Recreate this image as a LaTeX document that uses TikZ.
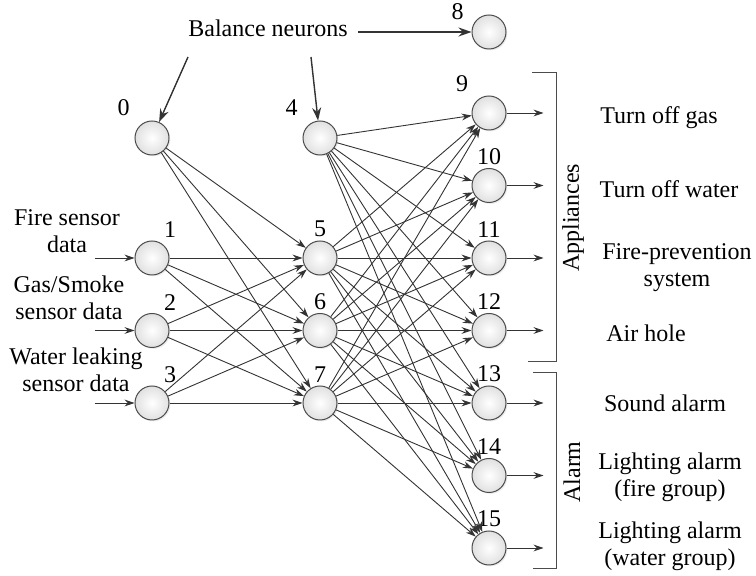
\documentclass[tikz,border=0pt]{standalone}
\usepackage{fontspec}
\setmainfont{Liberation Serif}
\usetikzlibrary{arrows.meta, positioning, shadows}

\begin{document}
\begin{tikzpicture}[->,>={Stealth[length=5pt,width=3.4pt]},x=0.5pt,y=-0.5pt,
		node distance=36.25pt,font=\fontsize{12}{13.5}\selectfont,
		every edge/.style={draw=black!80,line width=0.45pt}]
		\tikzstyle{neuron}=[circle,draw=black!70,line width=0.5pt,minimum size=17pt,inner sep=0pt,
			inner color=white,outer color=black!12,
			drop shadow={opacity=0.15,shadow xshift=0.7pt,shadow yshift=-0.7pt}]
		\tikzstyle{num}=[inner sep=0.5pt]
		\tikzstyle{desc}=[align=center,inner sep=0pt]
		\tikzstyle{wire}=[draw=black!80,line width=0.45pt]
		\tikzstyle{bal}=[draw=black!80,line width=0.7pt,-{Stealth[length=6.5pt,width=4.5pt]}]
		\tikzstyle{bracket}=[-,draw=black!70,line width=0.5pt]

		\useasboundingbox (0,0) rectangle (756,576);

		% input layer
		\node[neuron,label={[num,label distance=6pt]135:0}] (N0) at (152,138) {};
		\node[neuron,label={[num,label distance=2pt]60:1}] (N1) at (152,258) {};
		\node[neuron,label={[num,label distance=2pt]60:2}] (N2) [below of=N1] {};
		\node[neuron,label={[num,label distance=2pt]60:3}] (N3) [below of=N2] {};

		% hidden layer
		\node[neuron,label={[num,label distance=6pt]135:4}] (N4) [right of=N0,node distance=84pt] {};
		\node[neuron,label={[num,label distance=1pt]above:5}] (N5) [right of=N1,node distance=84pt] {};
		\node[neuron,label={[num,label distance=1pt]above:6}] (N6) [below of=N5] {};
		\node[neuron,label={[num,label distance=1pt]above:7}] (N7) [below of=N6] {};

		% output layer
		\node[neuron,label={[num,label distance=4.5pt]155:8}] (N8) at (489,32) {};
		\node[neuron,label={[num,label distance=5pt]135:9}] (N9) at (489,113) {};
		\node[neuron,label={[num,label distance=1pt]above:10}] (N10) [below of=N9] {};
		\node[neuron,label={[num,label distance=1pt]above:11}] (N11) [below of=N10] {};
		\node[neuron,label={[num,label distance=1pt]above:12}] (N12) [below of=N11] {};
		\node[neuron,label={[num,label distance=1pt]above:13}] (N13) [below of=N12] {};
		\node[neuron,label={[num,label distance=1pt]above:14}] (N14) [below of=N13] {};
		\node[neuron,label={[num,label distance=1pt]above:15}] (N15) [below of=N14] {};

		\path (N0) edge (N5) edge (N6) edge (N7)
			(N1) edge (N5) edge (N6) edge (N7)
			(N2) edge (N5) edge (N6) edge (N7)
			(N3) edge (N5) edge (N6) edge (N7);
		\path (N4) edge (N9) edge (N10) edge (N11) edge (N12) edge (N13) edge (N14) edge (N15)
			(N5) edge (N9) edge (N10) edge (N11) edge (N12) edge (N13) edge (N14) edge (N15)
			(N6) edge (N9) edge (N10) edge (N11) edge (N12) edge (N13) edge (N14) edge (N15)
			(N7) edge (N9) edge (N10) edge (N11) edge (N12) edge (N13) edge (N14) edge (N15);

		% balance neurons
		\node[inner sep=5pt] (BN) at (268,28) {Balance neurons};
		\coordinate (B0) at (188,57);
		\coordinate (B4) at (311,57);
		\draw[bal] (BN.east |- N8) -- (N8);
		\draw[bal] (B0) -- (N0);
		\draw[bal] (B4) -- (N4);

		% inputs
		\coordinate[left=20pt of N1] (I1);
		\coordinate[left=20pt of N2] (I2);
		\coordinate[left=20pt of N3] (I3);
		\draw[wire] (I1) -- (N1);
		\draw[wire] (I2) -- (N2);
		\draw[wire] (I3) -- (N3);
		\node[desc] (Lfire) at (67,231) {Fire sensor\\data};
		\node[desc] (Lgas) at (69,298) {Gas/Smoke\\sensor data};
		\node[desc] (Lwater) at (76,370) {Water leaking\\sensor data};

		% outputs
		\coordinate[right=18.5pt of N9] (O9);
		\coordinate[right=18.5pt of N10] (O10);
		\coordinate[right=18.5pt of N11] (O11);
		\coordinate[right=18.5pt of N12] (O12);
		\coordinate[right=18.5pt of N13] (O13);
		\coordinate[right=18.5pt of N14] (O14);
		\coordinate[right=18.5pt of N15] (O15);
		\draw[wire] (N9) -- (O9);
		\draw[wire] (N10) -- (O10);
		\draw[wire] (N11) -- (O11);
		\draw[wire] (N12) -- (O12);
		\draw[wire] (N13) -- (O13);
		\draw[wire] (N14) -- (O14);
		\draw[wire] (N15) -- (O15);

		\draw[bracket] (532,73) -| (556,362) -- (528,362);
		\draw[bracket] (533,373) -| (556,569) -- (533,569);
		\node[rotate=90] (Lapp) at (573,218) {Appliances};
		\node[rotate=90] (Lalarm) at (572,472) {Alarm};

		\node[desc] (Lgasoff) at (659,118) {Turn off gas};
		\node[desc] (Lwateroff) at (669,189) {Turn off water};
		\node[desc] (Lfirep) at (677,268) {Fire-prevention\\system};
		\node[desc] (Lair) at (646,333) {Air hole};
		\node[desc] (Lsound) at (665,403) {Sound alarm};
		\node[desc] (Llfire) at (670,477) {Lighting alarm\\(fire group)};
		\node[desc] (Llwater) at (670,546) {Lighting alarm\\(water group)};
	\end{tikzpicture}
\end{document}
